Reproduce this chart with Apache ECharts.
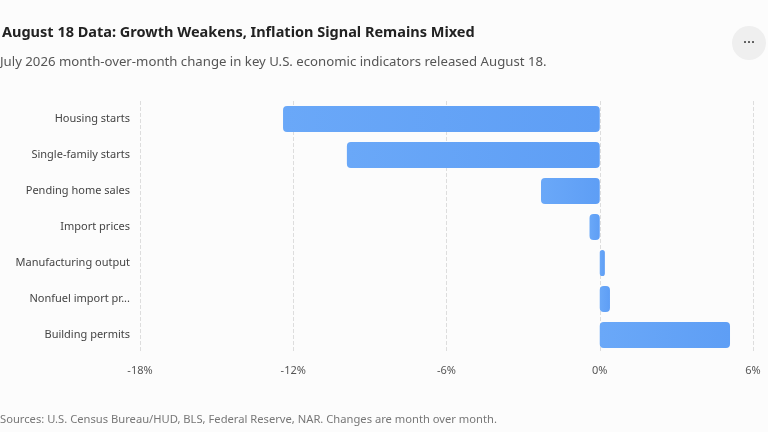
<!DOCTYPE html>
<html><head><meta charset="utf-8">
<script src="https://cdn.jsdelivr.net/npm/echarts@6/dist/echarts.min.js"></script>
<style>
body{margin:0;background:#fcfcfc;font-family:"Noto Sans",sans-serif;}
#chart{width:768px;height:432px;}
.more{position:absolute;left:732px;top:26px;width:34px;height:34px;border-radius:17px;background:#efefef;color:#333;font-size:15px;text-align:center;line-height:30px;}
</style></head>
<body>
<div id="chart"></div>
<div class="more">···</div>
<script>
const categories = ['Housing starts','Single-family starts','Pending home sales','Import prices','Manufacturing output','Nonfuel import prices','Building permits'];
const changes = [-12.4, -9.9, -2.3, -0.4, 0.2, 0.4, 5.1];

const chart = echarts.init(document.getElementById('chart'));
chart.setOption({
    backgroundColor: '#fcfcfc',
    textStyle: { fontFamily: 'Noto Sans' },
    title: [{
        text: 'August 18 Data: Growth Weakens, Inflation Signal Remains Mixed',
        left: -3, top: 20,
        textStyle: { fontSize: 14.5, fontWeight: 'bold', color: '#222', fontFamily: 'Noto Sans' },
    }, {
        text: 'July 2026 month-over-month change in key U.S. economic indicators released August 18.',
        left: -5, top: 51,
        textStyle: { fontSize: 13.2, fontWeight: 'normal', color: '#555', fontFamily: 'Noto Sans' },
    }],
    graphic: [{
        type: 'text', left: 0, top: 414,
        style: { text: 'Sources: U.S. Census Bureau/HUD, BLS, Federal Reserve, NAR. Changes are month over month.', fill: '#777', fontSize: 11.2, fontFamily: 'Noto Sans' },
    }],
    grid: { left: 140, right: 15, top: 101, bottom: 79 },
    xAxis: {
        type: 'value', min: -18, max: 6, interval: 6,
        axisLabel: { formatter: '{value}%', color: '#555', fontSize: 11, margin: 12, fontFamily: 'Noto Sans' },
        axisLine: { show: false }, axisTick: { show: false },
        splitLine: { lineStyle: { color: '#ddd', type: 'dashed' } },
    },
    yAxis: {
        type: 'category', data: categories, inverse: true,
        axisLabel: {
            color: '#444', fontSize: 11, margin: 10, fontFamily: 'Noto Sans',
            formatter: v => v.length > 20 ? v.slice(0, 17) + '...' : v,
        },
        axisLine: { show: false }, axisTick: { show: false },
    },
    series: [{
        type: 'bar', data: changes, barWidth: 26,
        itemStyle: {
            borderRadius: 4,
            color: new echarts.graphic.LinearGradient(0, 0, 1, 0, [
                { offset: 0, color: '#6aa8f8' }, { offset: 1, color: '#5e9ef5' },
            ]),
        },
    }],
});
</script>
</body></html>
